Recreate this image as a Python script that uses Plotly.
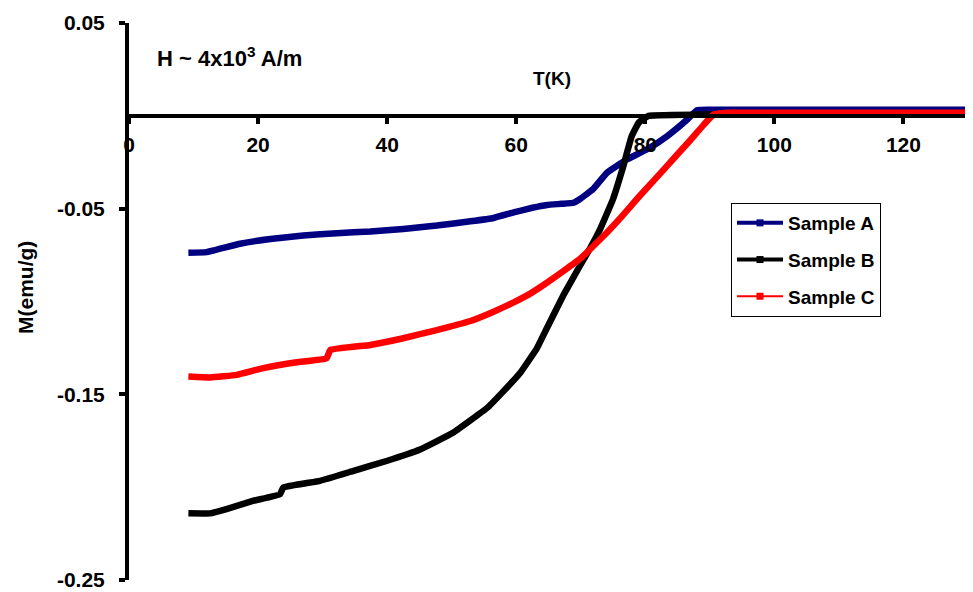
import plotly.graph_objects as go

# Sample A (blue)
tA = [9.2, 12.0, 17.2, 21.9, 27.0, 32.2, 37.4, 42.5, 47.7, 52.9, 56.5, 59.6, 62.5, 64.8,
      67.0, 68.9, 69.9, 71.9, 74.1, 77.2, 80.3, 83.4, 86.5, 88.0, 90, 100, 110, 120, 130]
mA = [-0.0738, -0.0734, -0.0689, -0.0663, -0.0645, -0.0632, -0.0623, -0.0609, -0.0591,
      -0.0568, -0.0550, -0.0520, -0.0495, -0.0480, -0.0474, -0.0468, -0.0448, -0.0395,
      -0.0305, -0.0234, -0.0180, -0.0109, -0.0020, 0.0030, 0.0033, 0.0033, 0.0033, 0.0033,
      0.0033]

# Sample B (black)
tB = [9.2, 12.6, 15.1, 19.3, 23.4, 23.9, 29.6, 34.8, 39.9, 45.1, 50.2, 55.5, 58.0, 60.6,
      63.2, 64.8, 67.4, 69.9, 71.5, 73.0, 75.0, 76.6, 77.9, 79.0, 80.5, 90, 100, 110, 120, 130]
mB = [-0.2141, -0.2141, -0.2118, -0.2073, -0.2038, -0.2002, -0.1966, -0.1912, -0.1859,
      -0.1797, -0.1707, -0.1573, -0.1484, -0.1385, -0.1252, -0.1140, -0.0960, -0.0806,
      -0.0710, -0.0610, -0.0448, -0.0270, -0.0109, -0.0036, 0.0, 0.0008, 0.0008, 0.0008,
      0.0008, 0.0008]

# Sample C (red)
tC = [9.2, 12.6, 16.7, 20.8, 26.0, 30.6, 31.2, 37.4, 42.5, 47.7, 52.9, 56.5, 59.6, 62.3,
      64.8, 67.4, 69.9, 72.0, 74.1, 76.4, 78.7, 81.3, 84.4, 87.0, 89.0, 90.6, 92.6, 100,
      110, 120, 130]
mC = [-0.1404, -0.1409, -0.1395, -0.1359, -0.1327, -0.1306, -0.1261, -0.1234, -0.1198,
      -0.1154, -0.1105, -0.1055, -0.1005, -0.0955, -0.0898, -0.0834, -0.0770, -0.0700,
      -0.0627, -0.0540, -0.0448, -0.0349, -0.0230, -0.0130, -0.0050, 0.0007, 0.0016,
      0.0016, 0.0016, 0.0016, 0.0016]

names = ["Sample A", "Sample B", "Sample C"]
colors = ["#000080", "#000000", "#FF0000"]
xticks = [0, 20, 40, 60, 80, 100, 120]
yticks = [-0.25, -0.15, -0.05, 0.05]
yticktext = ["-0.25", "-0.15", "-0.05", "0.05"]

FONT = "Liberation Sans, Arial, sans-serif"

fig = go.Figure()
for t, m, c in zip([tA, tB, tC], [mA, mB, mC], colors):
    fig.add_trace(go.Scatter(x=t, y=m, mode="lines",
                             line=dict(color=c, width=6.5, shape="spline", smoothing=0.3),
                             showlegend=False, hoverinfo="skip"))
for n, c in zip(names, colors):
    fig.add_trace(go.Scatter(x=[None], y=[None], mode="lines+markers", name=n,
                             legendgroup=n,
                             line=dict(color=c, width=4 if c != "#FF0000" else 2),
                             marker=dict(color=c, size=7, symbol="square")))

# The page body adds an 8px margin, so the figure is sized to fit the window after it.
OFF = 8
W, H = 973 - OFF, 592 - OFF
L, R, T, B = 129 - OFF, 5, 23 - OFF, 12
pw = W - L - R
ph = H - T - B

def px(xp):
    return (xp - OFF - L) / pw

def py(yp):
    return (H - B - (yp - OFF)) / ph

fig.update_layout(
    width=W, height=H,
    margin=dict(l=L, r=R, t=T, b=B),
    paper_bgcolor="white", plot_bgcolor="white",
    font=dict(family=FONT, color="black"),
    xaxis=dict(range=[0, 130], anchor="free", position=0.25 / 0.30, automargin=False,
               tickvals=xticks, ticks="outside", ticklen=6, tickwidth=4,
               tickcolor="black", showline=True, linewidth=4, linecolor="black",
               showgrid=False, zeroline=False, ticklabelstandoff=3,
               ticklabeloverflow="allow",
               tickfont=dict(family=FONT, size=21, weight="bold", color="black")),
    yaxis=dict(range=[-0.25, 0.05], tickvals=yticks, ticktext=yticktext, automargin=False,
               ticks="outside", ticklen=6, tickwidth=4, tickcolor="black",
               showline=True, linewidth=4, linecolor="black",
               showgrid=False, zeroline=False, ticklabelstandoff=10,
               ticklabeloverflow="allow",
               tickfont=dict(family=FONT, size=21, weight="bold", color="black")),
    legend=dict(x=px(731), y=py(203), xanchor="left", yanchor="top",
                bordercolor="black", borderwidth=1, bgcolor="white",
                font=dict(family=FONT, size=19, weight="bold", color="black"),
                traceorder="grouped", tracegroupgap=9, itemwidth=46, entrywidth=112),
    annotations=[
        dict(text="H ~ 4x10<sup>3</sup> A/m", x=px(155), y=py(57), xref="paper", yref="paper",
             xanchor="left", yanchor="middle", showarrow=False,
             font=dict(family=FONT, size=22, weight="bold", color="black")),
        dict(text="T(K)", x=px(552), y=py(78), xref="paper", yref="paper",
             xanchor="center", yanchor="middle", showarrow=False,
             font=dict(family=FONT, size=19, weight="bold", color="black")),
        dict(text="M(emu/g)", x=px(25), y=py(288), xref="paper", yref="paper",
             xanchor="center", yanchor="middle", showarrow=False, textangle=-90,
             font=dict(family=FONT, size=21, weight="bold", color="black")),
    ],
)

fig.write_html("out.html")
